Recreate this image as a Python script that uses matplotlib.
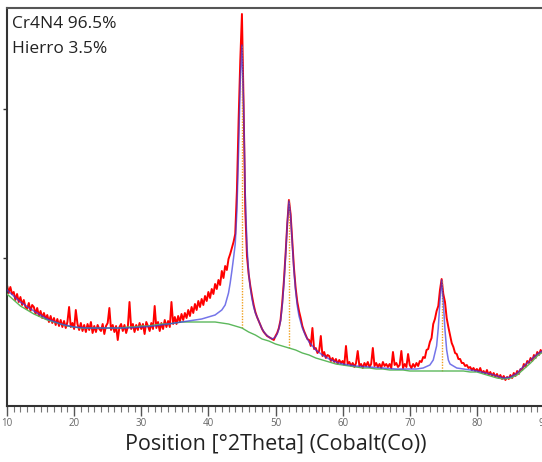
import numpy as np
import matplotlib
matplotlib.use("Agg")
import matplotlib.pyplot as plt

# ---------------- data (intensity in arbitrary units) ----------------
scan_start = 10.0
scan_step = 0.25
obs_counts = [
    121, 113, 119, 112,  114, 106, 112, 104,  109, 101, 106, 99,   97, 103, 95, 101,
    99, 92, 98, 90,      95, 88, 93, 87,      91, 84, 90, 83,      88, 81, 87, 80,
    86, 79, 85, 78,      84, 99, 79, 83,      77, 96, 82, 76,      83, 75, 81, 74,
    82, 76, 84, 73,      80, 74, 81, 77,      75, 82, 72, 80,      83, 98, 76, 81,
    74, 80, 66, 79,      82, 75, 81, 73,      79, 104, 77, 82,     74, 81, 76, 83,
    77, 82, 72, 84,      80, 75, 83, 77,      100, 78, 84, 75,     83, 77, 86, 79,
    85, 79, 104, 82,     89, 82, 90, 84,      92, 86, 93, 88,      96, 90, 99, 93,
    102, 96, 105, 99,    107, 101, 110, 105,  114, 108, 117, 112,  122, 117, 126, 121,
    135, 128, 140, 136,  147, 152, 158, 164,  172, 215, 285, 345,  392, 300, 195, 150,
    132, 120, 110, 101,  94, 89, 85, 81,      77, 74, 72, 70,      69, 68, 67, 66,
    70, 73, 78, 86,      103, 125, 152, 182,  206, 192, 165, 138,  118, 104, 95, 88,
    80, 75, 71, 67,      66, 60, 78, 57,      58, 53, 55, 70,      50, 54, 48, 51,
    50, 45, 48, 44,      47, 42, 46, 43,      45, 41, 60, 42,      44, 40, 43, 39,
    43, 55, 40, 42,      38, 43, 40, 44,      39, 42, 58, 40,      43, 39, 42, 38,
    44, 40, 42, 39,      42, 38, 54, 41,      43, 39, 41, 55,      38, 42, 39, 52,
    41, 38, 42, 39,      43, 40, 45, 44,      49, 48, 56, 57,      64, 68, 82, 87,
    95, 100, 116, 127,   112, 104, 88, 79,    71, 63, 59, 53,      52, 47, 47, 43,
    43, 40, 41, 38,      39, 36, 38, 35,      37, 34, 38, 33,      35, 32, 36, 31,
    34, 30, 33, 29,      32, 28, 31, 27,      30, 26, 29, 27,      31, 28, 33, 30,
    35, 32, 37, 36,      42, 39, 45, 43,      48, 45, 51, 48,      54, 51, 56, 53,
    57,
]

calc_two_theta = [10, 12, 14, 16, 18, 20, 22, 24, 26, 28, 30, 32, 34, 36, 37, 38, 39, 40,
                  41, 42, 42.5, 43, 43.25, 43.5, 43.75, 44, 44.25, 44.5, 44.75, 45, 45.25,
                  45.5, 45.75, 46, 46.25, 46.5, 46.75, 47, 47.5, 48, 48.5, 49, 49.5, 50,
                  50.25, 50.5, 50.75, 51, 51.25, 51.5, 51.75, 52, 52.25, 52.5, 52.75, 53,
                  53.25, 53.5, 54, 54.5, 55, 56, 57, 58, 59, 60, 62, 64, 66, 68, 70, 71,
                  72, 73, 73.5, 74, 74.25, 74.5, 74.75, 75, 75.25, 75.5, 75.75, 76, 77,
                  78, 80, 82, 84, 85, 86, 87, 88, 89, 90]
calc_counts = [116, 104, 95, 87, 82, 79, 78, 78, 78, 78, 79, 80, 82, 84, 85, 86, 87, 89,
               91, 96, 101, 113, 123, 135, 148, 162, 195, 255, 325, 361, 300,
               210, 160, 133, 118, 107, 99, 93, 85, 77, 72, 69, 67, 69,
               72, 77, 85, 100, 122, 150, 182, 205, 190, 162, 135, 115,
               100, 90, 78, 70, 64, 56, 51, 47, 44, 42, 40, 39, 38, 37, 37, 37,
               38, 41, 46, 60, 78, 105, 126, 104, 76, 56, 46, 42, 38,
               37, 35, 32, 28, 29, 33, 40, 46, 52, 56]

bg_two_theta = list(range(10, 91))
bg_counts = [112, 106, 100, 96, 92, 89, 86, 84, 82, 80, 79, 78, 78, 78, 78, 78, 78, 78,
             79, 79, 80, 80, 81, 82, 82, 83, 84, 84, 84, 84, 84, 84, 83, 82, 80, 78,
             74, 71, 67, 65, 62, 60, 58, 56, 53, 51, 48, 46, 44, 42, 41, 40, 39, 38,
             38, 37, 37, 36, 36, 36, 35, 35, 35, 35, 35, 35, 35, 35, 35, 34, 34, 32,
             30, 28, 27, 28, 31, 37, 43, 50, 55]

peak_pos = [45.0, 52.0, 74.75]
peak_base = [78, 58, 35]
peak_top = [361, 206, 126]

phase_labels = ["Cr4N4 96.5%", "Hierro 3.5%"]

# ---------------- figure ----------------
plt.rcParams['font.family'] = ['Open Sans', 'DejaVu Sans']
fig = plt.figure(figsize=(5.42, 4.62), dpi=100)
ax = fig.add_axes([7 / 542, 56 / 462, 537 / 542, 398 / 462])

obs_two_theta = scan_start + scan_step * np.arange(len(obs_counts))
ax.plot(obs_two_theta, obs_counts, color='#ff0000', lw=1.4, zorder=2)
ax.vlines(peak_pos, peak_base, peak_top, colors='#f0a020', linestyles=(0, (1, 1)),
          lw=1.0, zorder=3)
ax.plot(bg_two_theta, bg_counts, color='#5cb85c', lw=1.0, zorder=4)
ax.plot(calc_two_theta, calc_counts, color='#3a3ae0', lw=1.1, alpha=0.7, zorder=5)

ax.set_xlim(10, 90)
ax.set_ylim(0, 398)
ax.set_xticks(np.arange(10, 91, 10))
ax.set_xticks(np.arange(10, 91, 1), minor=True)
ax.set_yticks([148, 297])
ax.set_yticklabels([])
ax.tick_params(axis='x', which='major', direction='out', length=7, width=1,
               color='#555555', labelsize=7, labelcolor='#666666', pad=2)
ax.tick_params(axis='x', which='minor', direction='out', length=4, width=0.8,
               color='#777777')
ax.tick_params(axis='y', which='major', direction='out', length=3, width=1,
               color='#333333')

for side in ['left', 'bottom', 'top']:
    ax.spines[side].set_linewidth(1.5)
    ax.spines[side].set_color('#333333')
ax.spines['top'].set_color('#555555')
ax.spines['right'].set_visible(False)

ax.set_xlabel("Position [°2Theta] (Cobalt(Co))", fontsize=15.5, color='#222222',
              labelpad=3)

ax.text(0.01, 0.98, phase_labels[0], transform=ax.transAxes, fontsize=12.5,
        va='top', ha='left', color='#222222')
ax.text(0.01, 0.918, phase_labels[1], transform=ax.transAxes, fontsize=12.5,
        va='top', ha='left', color='#222222')

fig.savefig("out.png", dpi=100)
